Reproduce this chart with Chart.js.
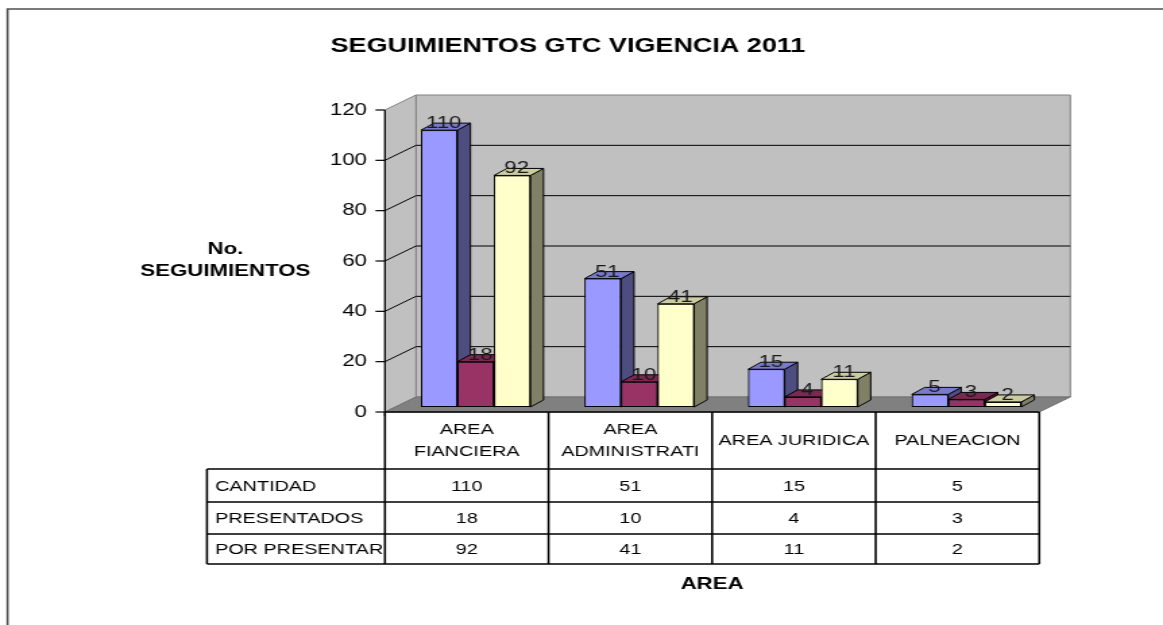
<!DOCTYPE html>
<html>
<head>
<meta charset="utf-8">
<script src="https://cdn.jsdelivr.net/npm/chart.js@4.4.1/dist/chart.umd.min.js"></script>
<style>
html,body{margin:0;padding:0;background:#fff;overflow:hidden}
#c{display:block}
</style>
</head>
<body>
<canvas id="c" width="862" height="625" style="width:1163px;height:625px"></canvas>
<script>
// ---- data ----
const chartTitle = 'SEGUIMIENTOS GTC VIGENCIA 2011';
const yTitleLines = ['No.', 'SEGUIMIENTOS'];
const xTitle = 'AREA';
const categories = ['AREA FIANCIERA', 'AREA ADMINISTRATI', 'AREA JURIDICA', 'PALNEACION'];
const seriesNames = ['CANTIDAD', 'PRESENTADOS', 'POR PRESENTAR'];
const cantidad = [110, 51, 15, 5];
const presentados = [18, 10, 4, 3];
const porPresentar = [92, 41, 11, 2];
const yTicks = [0, 20, 40, 60, 80, 100, 120];

// ---- styles ----
const FONT = "'Liberation Sans', Arial, sans-serif";
const frontColors = ['#9999FF', '#993366', '#FFFFCC'];
const sideColors = ['#4D4D80', '#4D1A33', '#808066'];
const topColors = ['#7A7ACC', '#7A2952', '#CCCCA3'];
const PLANE_DX = 6.7, PLANE_DY = -5;   // bar plane relative to axis plane
const WALL_DX = 23, WALL_DY = -15;     // back wall depth
const BAR_DX = 9.6, BAR_DY = -7;       // bar depth

const seriesData = [cantidad, presentados, porPresentar];

function poly(ctx, pts, fill, stroke, lw) {
  ctx.beginPath();
  ctx.moveTo(pts[0][0], pts[0][1]);
  for (let i = 1; i < pts.length; i++) ctx.lineTo(pts[i][0], pts[i][1]);
  ctx.closePath();
  if (fill) { ctx.fillStyle = fill; ctx.fill(); }
  if (stroke) { ctx.strokeStyle = stroke; ctx.lineWidth = lw || 1; ctx.stroke(); }
}
function line(ctx, pts, color, lw) {
  ctx.beginPath();
  ctx.moveTo(pts[0][0], pts[0][1]);
  for (let i = 1; i < pts.length; i++) ctx.lineTo(pts[i][0], pts[i][1]);
  ctx.strokeStyle = color; ctx.lineWidth = lw || 1; ctx.stroke();
}
function wrap(ctx, text, maxW) {
  const words = text.split(' ');
  const lines = [];
  let cur = '';
  for (const w of words) {
    const t = cur ? cur + ' ' + w : w;
    if (ctx.measureText(t).width > maxW && cur) { lines.push(cur); cur = w; }
    else cur = t;
  }
  lines.push(cur);
  return lines;
}

const threeD = {
  id: 'threeD',
  beforeDatasetsDraw(chart) {
    const ctx = chart.ctx, ys = chart.scales.y, xs = chart.scales.x;
    const L = xs.left - PLANE_DX, R = xs.right - PLANE_DX;
    const yT = ys.getPixelForValue(yTicks[yTicks.length - 1]), yB = ys.getPixelForValue(0);
    ctx.save();
    // back wall
    poly(ctx, [[L + WALL_DX, yT + WALL_DY], [R + WALL_DX, yT + WALL_DY], [R + WALL_DX, yB + WALL_DY], [L + WALL_DX, yB + WALL_DY]], '#C0C0C0', '#808080', 1);
    // side wall
    poly(ctx, [[L, yT], [L + WALL_DX, yT + WALL_DY], [L + WALL_DX, yB + WALL_DY], [L, yB]], '#C0C0C0', '#808080', 1);
    // floor
    poly(ctx, [[L, yB], [R, yB], [R + WALL_DX, yB + WALL_DY], [L + WALL_DX, yB + WALL_DY]], '#808080', '#707070', 1);
    // gridlines
    for (const v of yTicks) {
      if (v === 0 || v === yTicks[yTicks.length - 1]) continue;
      const py = ys.getPixelForValue(v);
      line(ctx, [[L, py], [L + WALL_DX, py + WALL_DY], [R + WALL_DX, py + WALL_DY]], '#000', 1);
    }
    // axis line + tick marks
    line(ctx, [[L, yT], [L, yB + 4]], '#000', 1.2);
    for (const v of yTicks) {
      const py = ys.getPixelForValue(v);
      line(ctx, [[L - 7, py], [L, py]], '#000', 1.2);
    }
    ctx.restore();
  },
  afterDatasetsDraw(chart) {
    const ctx = chart.ctx;
    const metas = chart.data.datasets.map((d, i) => chart.getDatasetMeta(i));
    ctx.save();
    for (let c = 0; c < categories.length; c++) {
      for (let d = 0; d < metas.length; d++) {
        const el = metas[d].data[c];
        el.draw(ctx);
        const p = el.getProps(['x', 'y', 'base', 'width'], true);
        const l = p.x - p.width / 2, r = p.x + p.width / 2, t = Math.min(p.y, p.base), b = Math.max(p.y, p.base);
        poly(ctx, [[r, t], [r + BAR_DX, t + BAR_DY], [r + BAR_DX, b + BAR_DY], [r, b]], sideColors[d], '#000', 1);
        poly(ctx, [[l, t], [r, t], [r + BAR_DX, t + BAR_DY], [l + BAR_DX, t + BAR_DY]], topColors[d], '#000', 1);
      }
    }
    // value labels
    ctx.font = '16.5px ' + FONT;
    ctx.fillStyle = '#1a1a1a';
    ctx.textAlign = 'center';
    ctx.textBaseline = 'middle';
    for (let d = 0; d < metas.length; d++) {
      metas[d].data.forEach((el, c) => {
        const p = el.getProps(['x', 'y'], true);
        ctx.fillText(String(seriesData[d][c]), p.x + 3.3, p.y - 6.5);
      });
    }
    ctx.restore();
  },
  afterDraw(chart) {
    const ctx = chart.ctx, ys = chart.scales.y, xs = chart.scales.x;
    const L = xs.left - PLANE_DX, R = xs.right - PLANE_DX;
    const yB = ys.getPixelForValue(0);
    ctx.save();
    // outer frame
    line(ctx, [[5.6, 625], [5.6, 9], [862, 9]], '#505050', 1.6);

    // title
    ctx.fillStyle = '#000';
    ctx.textAlign = 'center';
    ctx.textBaseline = 'middle';
    ctx.font = 'bold 20px ' + FONT;
    ctx.fillText(chartTitle, 421, 46);

    // y title
    ctx.font = 'bold 16.5px ' + FONT;
    ctx.fillText(yTitleLines[0], 167, 249);
    ctx.fillText(yTitleLines[1], 167, 271);

    // data table
    const colW = (R - L) / categories.length;
    const headTop = yB, headBot = 469, rowH = [469, 502, 534, 564];
    const tabLeft = 153.4;
    ctx.font = '14.7px ' + FONT;
    ctx.fillStyle = '#000';
    // header labels
    for (let c = 0; c < categories.length; c++) {
      const cx = L + colW * (c + 0.5);
      const lines = wrap(ctx, categories[c], colW - 6);
      const lh = 22;
      const cy = (headTop + headBot) / 2 + 0.5;
      lines.forEach((ln, i) => {
        ctx.fillText(ln, cx, cy + (i - (lines.length - 1) / 2) * lh);
      });
    }
    // rows
    for (let r = 0; r < seriesNames.length; r++) {
      const cy = (rowH[r] + rowH[r + 1]) / 2 + 1;
      ctx.textAlign = 'left';
      ctx.fillText(seriesNames[r], tabLeft + 6, cy);
      ctx.textAlign = 'center';
      for (let c = 0; c < categories.length; c++) {
        ctx.fillText(String(seriesData[r][c]), L + colW * (c + 0.5), cy);
      }
    }
    // table lines
    const lw = 1.6;
    line(ctx, [[L, headTop], [R, headTop]], '#000', lw);
    for (let c = 0; c <= categories.length; c++) {
      const x = L + colW * c;
      line(ctx, [[x, headTop], [x, rowH[3]]], '#000', lw);
    }
    for (const y of rowH) line(ctx, [[tabLeft, y], [R, y]], '#000', lw);
    line(ctx, [[tabLeft, rowH[0]], [tabLeft, rowH[3]]], '#000', lw);

    // x title
    ctx.textAlign = 'center';
    ctx.font = 'bold 16.5px ' + FONT;
    ctx.fillText(xTitle, (L + R) / 2, 584);
    ctx.restore();
  }
};

new Chart(document.getElementById('c'), {
  type: 'bar',
  data: {
    labels: categories,
    datasets: seriesNames.map((n, i) => ({
      label: n,
      data: seriesData[i],
      backgroundColor: frontColors[i],
      borderColor: '#000',
      borderWidth: 1,
      borderSkipped: false,
      yAxisID: 'y2',
      categoryPercentage: 0.67,
      barPercentage: 1
    }))
  },
  options: {
    responsive: false,
    animation: false,
    devicePixelRatio: 1,
    layout: { padding: { top: 110, right: 85, bottom: 213, left: 0 } },
    plugins: { legend: { display: false }, title: { display: false }, tooltip: { enabled: false } },
    scales: {
      x: { display: false, offset: true },
      y: {
        position: 'left', min: 0, max: 120,
        ticks: { stepSize: 20, color: '#000', font: { family: FONT, size: 16.5 }, padding: 20 },
        grid: { display: false, drawTicks: false },
        border: { display: false },
        afterFit(s) { s.width = 292; }
      },
      y2: { display: false, min: -2, max: 118 }
    }
  },
  plugins: [threeD]
});
</script>
</body>
</html>
